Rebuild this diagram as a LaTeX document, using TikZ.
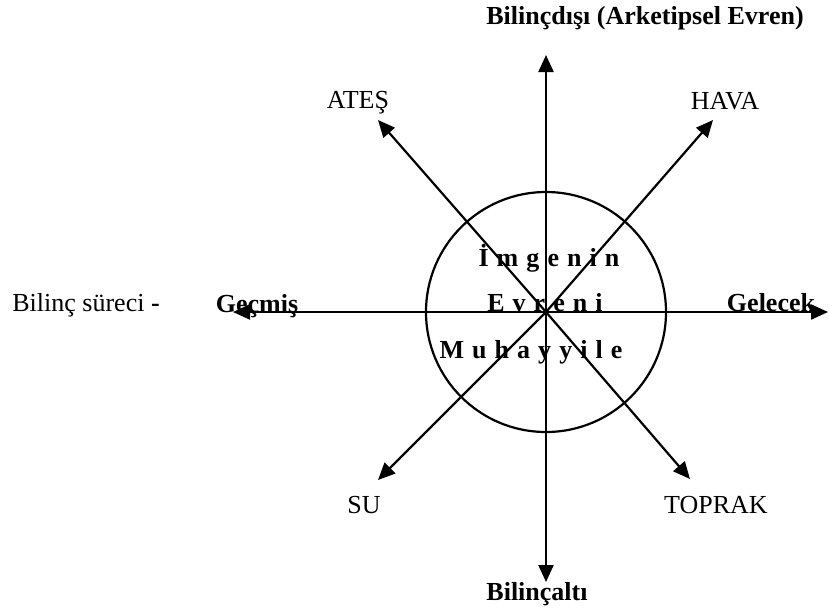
\documentclass[tikz,border=0pt]{standalone}
\usepackage{fontspec}
\setmainfont{Liberation Serif}
\newfontfamily\spacedfont[LetterSpace=6]{Liberation Serif}
\usetikzlibrary{arrows.meta}
\tikzset{>={Triangle[length=8.5pt,width=7.5pt]}}

\begin{document}
\begin{tikzpicture}[x=0.5pt,y=-0.5pt,
    ray/.style={->,line width=1.1pt},
    lbl/.style={anchor=base,inner sep=0pt,font=\fontsize{13}{15}\selectfont},
    blbl/.style={lbl,font=\fontsize{13}{15}\selectfont\bfseries},
    inlbl/.style={lbl,font=\fontsize{13}{15}\selectfont\spacedfont\bfseries}]
  % limits
  \useasboundingbox (0,0) rectangle (829,612);
  \def\r{120}   % radius of circle

  % centre and ray ends
  \coordinate (o) at (546,312);
  \coordinate (top) at (546,55);
  \coordinate (bot) at (546,582);
  \coordinate (lt) at (233,312);
  \coordinate (rt) at (828,312);
  \coordinate (ates) at (378,120);
  \coordinate (hava) at (713,120);
  \coordinate (su) at (378,480);
  \coordinate (toprak) at (690,479);

  % circle
  \draw[line width=1.1pt] (o) circle[radius=\r];

  % rays
  \foreach \e in {top,bot,lt,rt,ates,hava,su,toprak}{
    \draw[ray] (o) -- (\e);
  }

  % axis labels
  \node[blbl] (dis) at (645,24) {Bilinçdışı (Arketipsel Evren)};
  \node[blbl] (alt) at (537,600) {Bilinçaltı};
  \node[lbl,anchor=base west] (surec) at (12,311) {Bilinç süreci \textbf{-}};
  \node[blbl] (gecmis) at (257,312) {Geçmiş};
  \node[blbl] (gelecek) at (771,311) {Gelecek};

  % elements
  \node[lbl] (lates) at (358,108) {ATEŞ};
  \node[lbl] (lhava) at (725,109) {HAVA};
  \node[lbl] (lsu) at (364,513) {SU};
  \node[lbl] (ltoprak) at (716,513) {TOPRAK};

  % inside the circle
  \node[inlbl] (imge) at (549,266) {İ m g e n i n};
  \node[inlbl] (evren) at (545,311) {E v r e n i};
  \node[inlbl] (muh) at (531,358) {M u h a y y i l e};
\end{tikzpicture}
\end{document}
